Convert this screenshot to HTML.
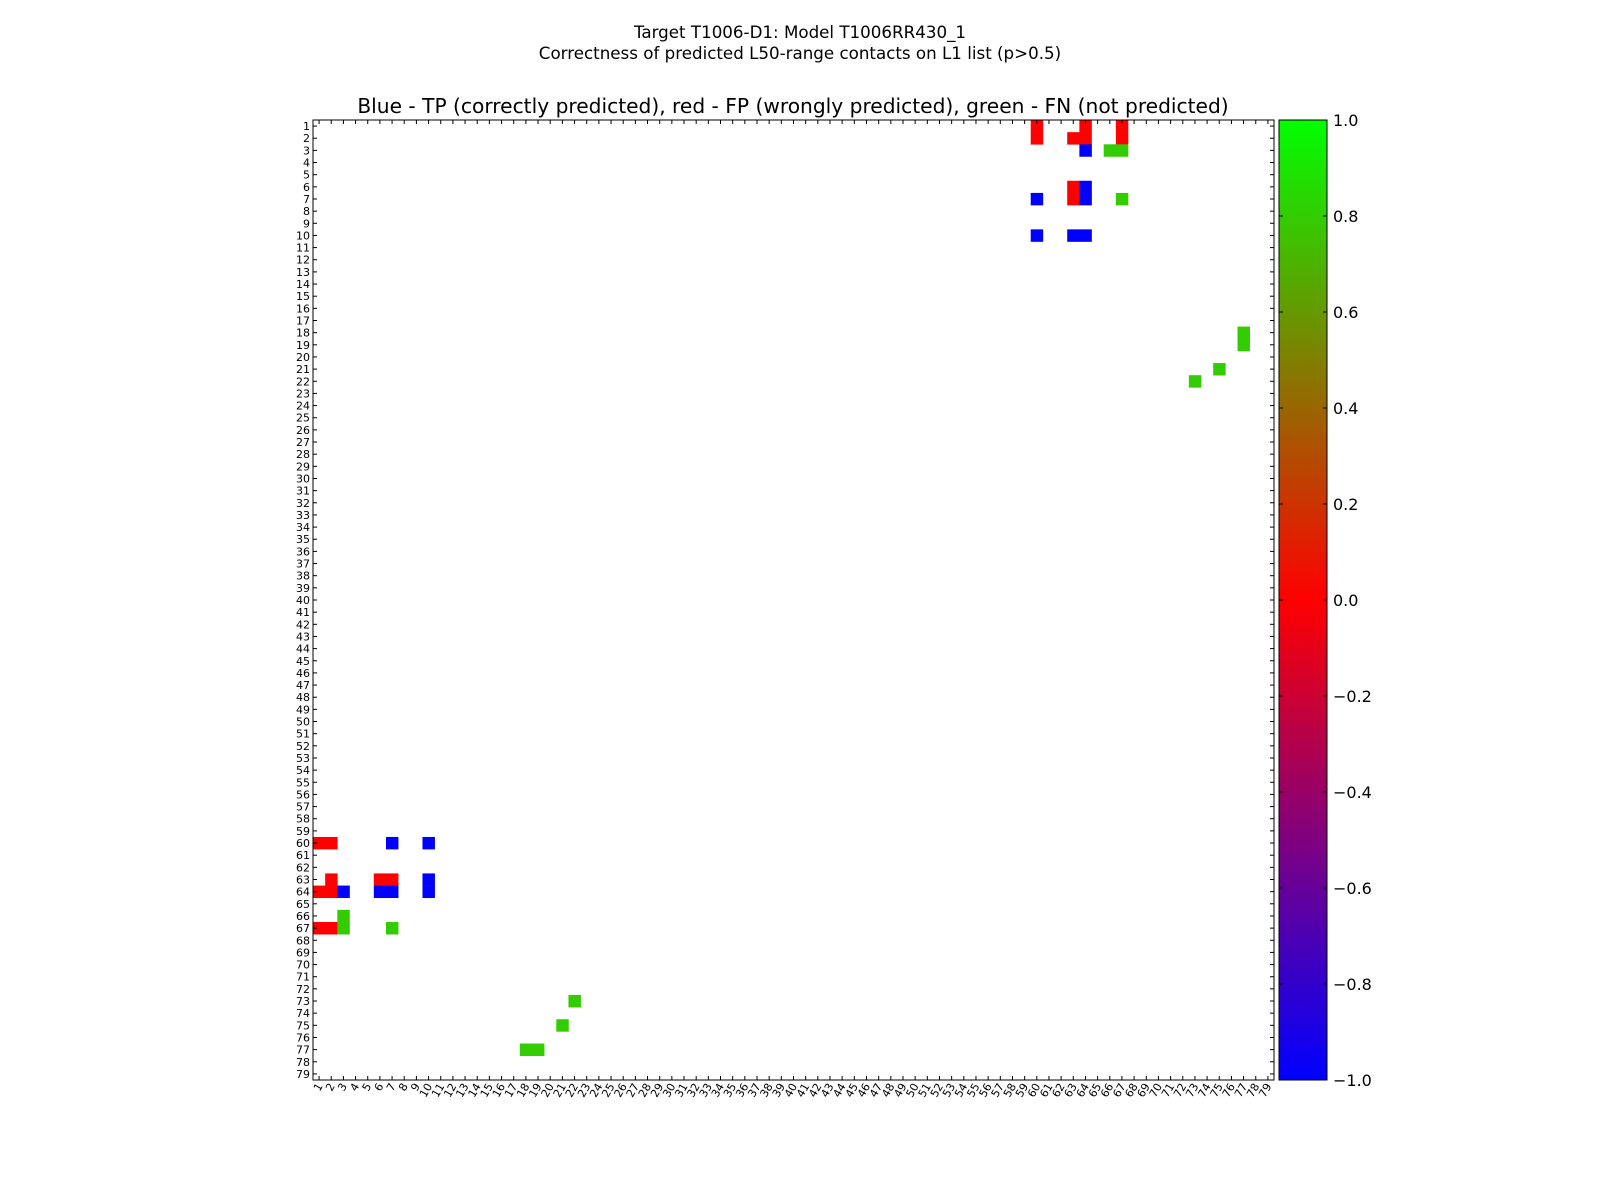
<!DOCTYPE html>
<html><head><meta charset="utf-8"><style>body{margin:0;background:#fff}svg{display:block;font-family:"DejaVu Sans","Liberation Sans",sans-serif}</style></head>
<body>
<svg id="chart" width="1600" height="1200" xmlns="http://www.w3.org/2000/svg">
<defs><linearGradient id="cb" x1="0" y1="1" x2="0" y2="0">
<stop offset="0" stop-color="#0000ff"/><stop offset="0.5" stop-color="#ff0000"/><stop offset="1" stop-color="#00ff00"/></linearGradient></defs>
<text x="800" y="38" font-size="16.7" text-anchor="middle">Target T1006-D1: Model T1006RR430_1</text>
<text x="800" y="59" font-size="16.7" text-anchor="middle">Correctness of predicted L50-range contacts on L1 list (p&gt;0.5)</text>
<text x="793" y="113" font-size="20.2" text-anchor="middle">Blue - TP (correctly predicted), red - FP (wrongly predicted), green - FN (not predicted)</text>
<g id="cells"></g>
<g id="axes"></g>
<rect x="1279" y="120" width="48" height="960" fill="url(#cb)" stroke="#000" stroke-width="1"/>
<g id="cbar"></g>
</svg>
<script>
const N = 79;
const cellRows = [1,2,2,1,2,1,2,3,3,3,6,7,6,7,7,7,10,10,10,18,19,21,22];
const cellCols = [60,60,63,64,64,67,67,64,66,67,63,63,64,64,60,67,60,63,64,77,77,75,73];
const cellVals = [0,0,0,0,0,0,0,-1,0.8,0.8,0,0,-1,-1,-1,0.8,-1,-1,-1,0.8,0.8,0.8,0.8];
const cbTicks = [1.0,0.8,0.6,0.4,0.2,0.0,-0.2,-0.4,-0.6,-0.8,-1.0];
const X0=313,Y0=120,W=961,H=960,cw=W/N,ch=H/N;
const ns="http://www.w3.org/2000/svg";
function xs(c){return X0+(c-1)*cw;}
function ys(r){return Y0+(r-1)*ch;}
function color(v){
  let r,g,b;
  if(v>=0){r=255*(1-v);g=255*v;b=0;}else{r=255*(1+v);g=0;b=-255*v;}
  return `rgb(${Math.round(r)},${Math.round(g)},${Math.round(b)})`;
}
const cg=document.getElementById('cells');
cellRows.forEach((r,i)=>{
  [[r,cellCols[i]],[cellCols[i],r]].forEach(([rr,cc])=>{
    const e=document.createElementNS(ns,'rect');
    
    
    e.setAttribute('x',xs(cc));e.setAttribute('y',ys(rr));
    e.setAttribute('width',cw+0.3);e.setAttribute('height',ch+0.3);
    e.setAttribute('fill',color(cellVals[i]));
    cg.appendChild(e);
  });
});
const ag=document.getElementById('axes');
let s=`<rect x="${X0}" y="${Y0}" width="${W}" height="${H}" fill="none" stroke="#000" stroke-width="1"/>`;
for(let k=1;k<=N;k++){
  const c=X0+(k-0.5)*cw, r=Y0+(k-0.5)*ch;
  s+=`<line x1="${X0}" y1="${r}" x2="${X0+4}" y2="${r}" stroke="#000"/><line x1="${X0+W}" y1="${r}" x2="${X0+W-4}" y2="${r}" stroke="#000"/>`;
  s+=`<line x1="${c}" y1="${Y0}" x2="${c}" y2="${Y0+4}" stroke="#000"/><line x1="${c}" y1="${Y0+H}" x2="${c}" y2="${Y0+H-4}" stroke="#000"/>`;
  s+=`<text x="${X0-3}" y="${r+4}" font-size="11" text-anchor="end">${k}</text>`;
  s+=`<text transform="translate(${c+4},${Y0+H+6}) rotate(-60)" font-size="11" text-anchor="end">${k}</text>`;
}
ag.innerHTML=s;
const cb=document.getElementById('cbar');
let t='';
cbTicks.forEach(v=>{
  const y=120+(1-v)/2*960;
  t+=`<line x1="1279" y1="${y}" x2="1283" y2="${y}" stroke="#000"/><line x1="1327" y1="${y}" x2="1323" y2="${y}" stroke="#000"/>`;
  t+=`<text x="1333" y="${y+6}" font-size="16">${v<0?'\u2212':''}${Math.abs(v).toFixed(1)}</text>`;
});
cb.innerHTML=t;
</script>
</body></html>
